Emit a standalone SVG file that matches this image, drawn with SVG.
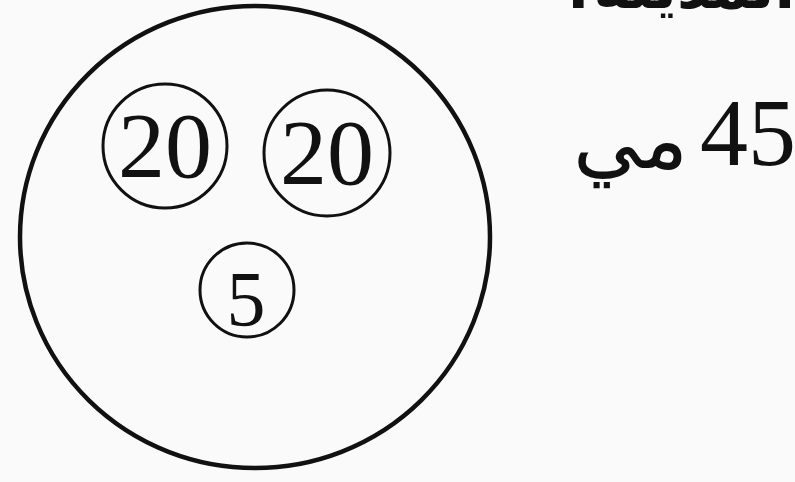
<svg xmlns="http://www.w3.org/2000/svg" width="795" height="482" viewBox="0 0 795 482">
<style>
.ring{fill:none;stroke:#111;stroke-width:3}
.num{font-family:"Liberation Serif",serif;fill:#111;text-anchor:middle}
.ar{font-family:"DejaVu Sans",sans-serif;fill:#111}
</style>
<rect width="795" height="482" fill="#fafafa"/>
<g id="outer">
<ellipse cx="255" cy="237" rx="235" ry="231" fill="none" stroke="#111" stroke-width="4.5"/>
</g>
<g id="coin-20-left">
<circle class="ring" cx="165" cy="146" r="62"/>
<text class="num" x="165" y="177" font-size="94">20</text>
</g>
<g id="coin-20-right">
<circle class="ring" cx="327" cy="153" r="63"/>
<text class="num" x="327" y="184" font-size="94">20</text>
</g>
<g id="coin-5">
<circle class="ring" cx="247" cy="290" r="47"/>
<text class="num" x="246" y="325" font-size="78">5</text>
</g>
<g id="label">
<text class="num" x="700" y="165" font-size="96" style="text-anchor:start">45</text>
<text class="ar" x="688" y="168" font-size="84" text-anchor="end">مي</text>
</g>
<g id="top-text">
<text class="ar" x="795" y="8" font-size="60" font-weight="bold" text-anchor="end">المدينة؟</text>
</g>
</svg>
